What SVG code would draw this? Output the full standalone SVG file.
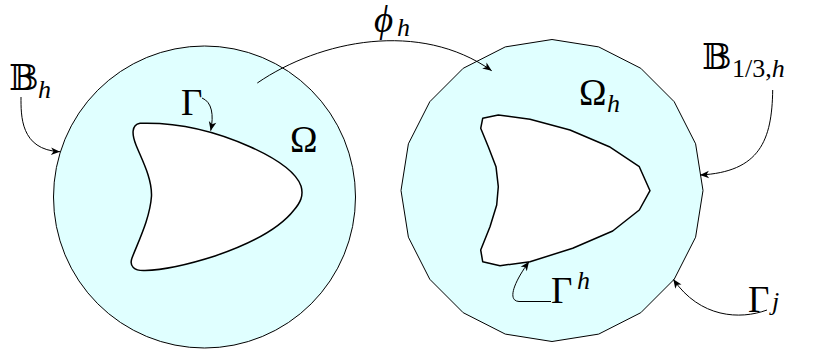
<svg xmlns="http://www.w3.org/2000/svg" width="819" height="358" viewBox="0 0 819 358">
<style>
.dom{fill:#e0ffff;stroke:#000;stroke-width:1}
.hole{fill:#fff;stroke:#000;stroke-width:1.5;stroke-linejoin:round}
.con{fill:none;stroke:#000;stroke-width:1}
.t{font-family:"Liberation Serif","DejaVu Serif",serif;font-size:37px;fill:#000}
.s{font-size:26px;font-style:italic}
.bb{font-family:"DejaVu Serif","DejaVu Sans",serif;font-size:35px}
.i{font-style:italic}
</style>
<defs>
<marker id="ar" viewBox="-10 -5 12 10" markerWidth="12" markerHeight="10" refX="0" refY="0" orient="auto" markerUnits="userSpaceOnUse">
<path d="M0,0 L-9,-3.8 L-6.5,0 L-9,3.8 Z" fill="#000"/>
</marker>
</defs>
<g id="left-domain">
<circle class="dom" cx="204.5" cy="197" r="151"/>
<path class="hole" d="M140,123.3 C180,122 215,131 250,146.7 C275,158 296,172 301,186 C304,196 300,203 294,210 C280,228 250,244 215,256 C190,264 165,270 145,270.5 C134,271 129,266 132,258 C139,240 150,218 151.5,196 C152,178 142,160 136,145 C132,135 131,125 140,123.3 Z"/>
</g>
<g id="right-domain">
<polygon class="dom" points="552,39.5 598.7,46.9 640.8,68.3 674.2,101.7 695.6,143.8 703,190.5 695.6,237.2 674.2,279.3 640.8,312.7 598.7,334.1 552,341.5 505.3,334.1 463.2,312.7 429.8,279.3 408.4,237.2 401,190.5 408.4,143.8 429.8,101.7 463.2,68.3 505.3,46.9"/>
<polygon class="hole" points="482.7,118.3 498.3,115 530,119.3 570,130 609.3,146.7 639.3,166.7 650,190.7 639.3,210 612.7,231 572.7,248.3 530,261.7 500,265.7 482.7,261.7 480.7,250 490,226.7 496.7,205 498.3,186.7 496,166.7 488.3,146.7 480.7,128.3"/>
</g>
<g id="connectors">
<path class="con" marker-end="url(#ar)" d="M257.3,83 C320,40 420,20 491.7,70.7"/>
<path class="con" marker-end="url(#ar)" d="M21,97 C21,115 20,150 60,151.7"/>
<path class="con" marker-end="url(#ar)" d="M202,98 C212,102 214,115 210.7,130.7"/>
<path class="con" marker-end="url(#ar)" d="M772.7,90 C772,140 760,172 700,175"/>
<path class="con" marker-end="url(#ar)" d="M551,301.5 L519,301.5 C508,301 512,285 529,261.7"/>
<path class="con" marker-end="url(#ar)" d="M767,310 C740,320 700,318 673.3,279.3"/>
</g>
<g id="labels">
<text class="t" x="374" y="32" font-size="33px"><tspan class="i">ϕ</tspan><tspan class="s" x="397" y="36">h</tspan></text>
<text class="t" x="9" y="90"><tspan class="bb">𝔹</tspan><tspan class="s" x="38" y="98">h</tspan></text>
<text class="t" x="181" y="115">Γ</text>
<text class="t" x="290" y="152">Ω</text>
<text class="t" x="579" y="105">Ω<tspan class="s" x="607" y="112">h</tspan></text>
<text class="t" x="702" y="69"><tspan class="bb">𝔹</tspan><tspan font-size="26px" x="732" y="77">1/3,<tspan class="i">h</tspan></tspan></text>
<text class="t" x="551" y="303">Γ<tspan class="s" x="577" y="289">h</tspan></text>
<text class="t" x="748" y="312">Γ<tspan class="s" x="772" y="310">j</tspan></text>
</g>
</svg>
